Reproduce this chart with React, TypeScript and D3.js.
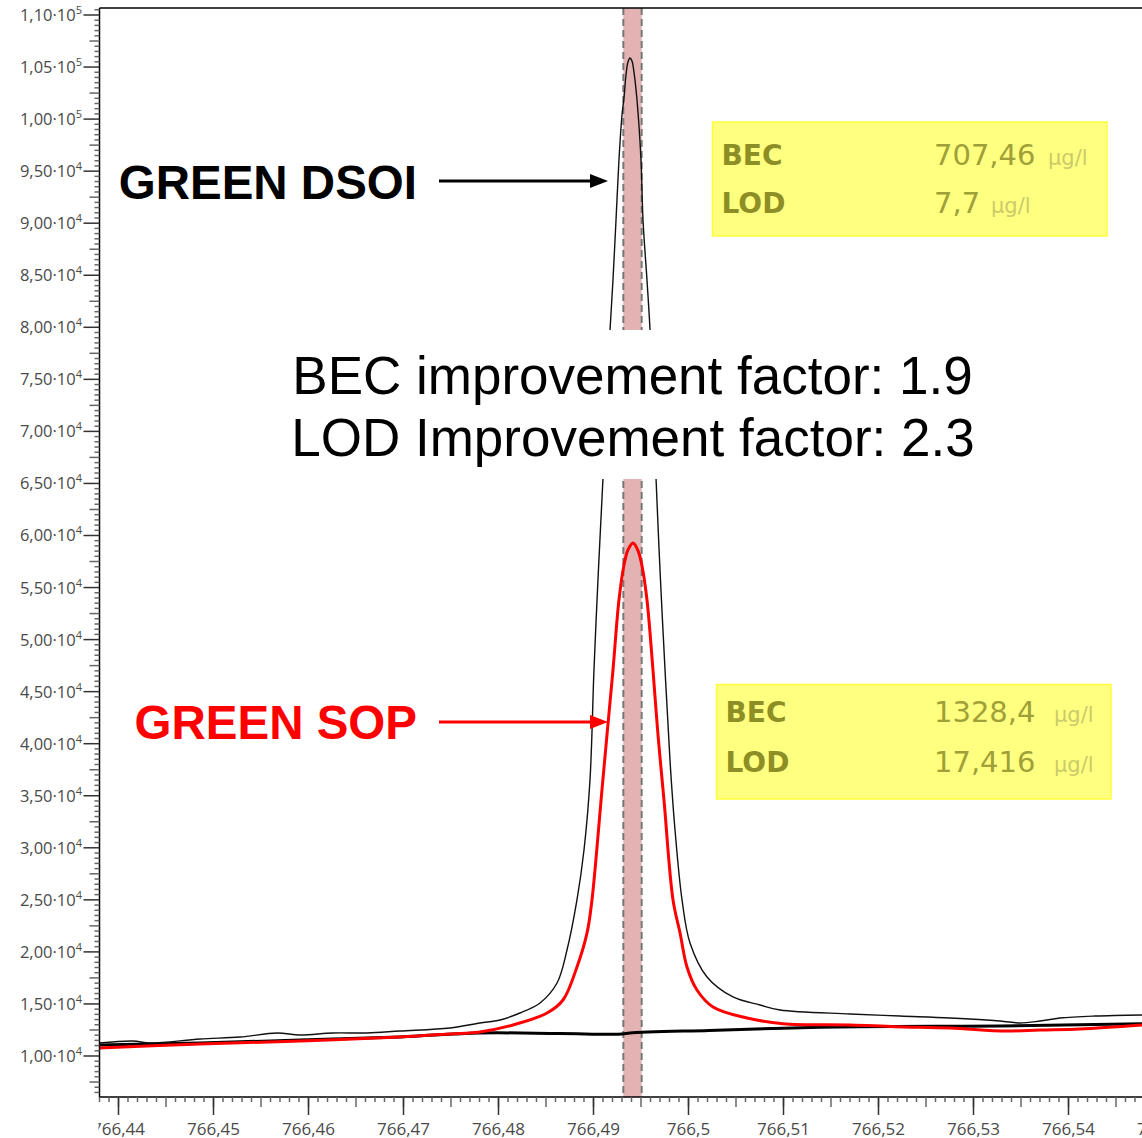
import React from "react";
import * as d3 from "d3";

// mass (x) and intensity (y)
const dsoiMass = [
  766.43795, 766.44153, 766.44332, 766.44858, 766.45279, 766.45668, 766.45911, 766.46258,
  766.46616, 766.46963, 766.47489, 766.47805, 766.48016, 766.48226, 766.48437, 766.48616,
  766.48721, 766.48826, 766.489, 766.48963, 766.49005, 766.49047, 766.491, 766.49174,
  766.49205, 766.49237, 766.49268, 766.493, 766.49321, 766.49342, 766.49363, 766.49384,
  766.49405, 766.49426, 766.49458, 766.495, 766.49521, 766.49563, 766.49595, 766.49658,
  766.497, 766.49753, 766.49805, 766.49858, 766.49932, 766.50016, 766.50195, 766.50468,
  766.50753, 766.50963, 766.517, 766.52226, 766.52753, 766.53279, 766.53489, 766.537,
  766.53911, 766.54279, 766.54774,
];
const dsoiIntensity = [
  11250, 11440, 11250, 11630, 11820, 12210, 12020, 12210,
  12210, 12400, 12690, 13170, 13460, 14130, 15090, 17010,
  20180, 24990, 29790, 36510, 47080, 55730, 65520, 79740,
  84540, 90300, 96070, 100390, 102030, 104240, 105490, 105870,
  105580, 104520, 101830, 96070, 90300, 84540, 79740, 65520,
  56690, 47080, 38430, 31710, 24990, 20860, 17590, 15670,
  14900, 14420, 14040, 13840, 13650, 13360, 13170, 13360,
  13650, 13840, 13940,
];

const sopMass = [
  766.43795, 766.44858, 766.45911, 766.46963, 766.47489, 766.47805, 766.48153, 766.48511,
  766.48679, 766.48826, 766.48932, 766.48984, 766.49089, 766.49142, 766.49205, 766.49268,
  766.49321, 766.49363, 766.49416, 766.49468, 766.49511, 766.49563, 766.49626, 766.49679,
  766.49742, 766.49837, 766.49911, 766.49984, 766.50089, 766.50258, 766.50616, 766.50995,
  766.517, 766.52174, 766.52753, 766.53342, 766.537, 766.54121, 766.54774,
];
const sopIntensity = [
  10770, 11150, 11440, 11830, 12120, 12310, 12980, 14130,
  15380, 18550, 21820, 24990, 35550, 40840, 47080, 53800,
  57170, 58610, 59280, 58550, 57050, 53800, 47080, 40840,
  34590, 24990, 21820, 18550, 16340, 14710, 13650, 13100,
  12980, 12820, 12690, 12400, 12500, 12600, 12980,
];

const blankMass = [
  766.43795, 766.44858, 766.45911, 766.46963, 766.47805, 766.48647, 766.493, 766.49384,
  766.50216, 766.51384, 766.52563, 766.53279, 766.54774,
];
const blankIntensity = [
  11060, 11250, 11540, 11830, 12210, 12160, 12110, 12210,
  12460, 12750, 12860, 12880, 13100,
];

const bandMass = [766.49314, 766.49507];

const yMajorTicks = d3.range(10000, 110001, 5000);
const xMajorTicks = d3.range(0, 12).map((i) => +(766.44 + i * 0.01).toFixed(2));

const W = 1142;
const H = 1138;
const left = 99.5;
const top = 8;
const bottom = 1097;

const x = d3.scaleLinear().domain([766.438, 766.547737]).range([left, W]);
const y = d3.scaleLinear().domain([6061, 110672]).range([bottom, top]);

const line = d3
  .line<[number, number]>()
  .x((d) => x(d[0]))
  .y((d) => y(d[1]))
  .curve(d3.curveCatmullRom.alpha(0.5));

const zip = (a: number[], b: number[]) => a.map((v, i) => [v, b[i]] as [number, number]);

const yLabel = (v: number) => {
  const exp = v >= 100000 ? 5 : 4;
  const mant = (v / Math.pow(10, exp)).toFixed(2).replace(".", ",");
  return { mant, exp };
};
const xLabel = (v: number) => d3.format("")(v).replace(".", ",");

const tickFont = "'Open Sans', sans-serif";
const boxFont = "'DejaVu Sans', sans-serif";
const annFont = "'Liberation Sans', Arial, sans-serif";

function InfoBox({ bx, by, bw, bh, rows }: { bx: number; by: number; bw: number; bh: number; rows: { label: string; value: string; unitX: number; baseline: number }[] }) {
  return (
    <g>
      <rect x={bx} y={by} width={bw} height={bh} fill="#ffff80" stroke="#ffff3c" strokeWidth={1.5} />
      {rows.map((r) => (
        <g key={r.label} fontFamily={boxFont}>
          <text x={bx + 9} y={r.baseline} fontSize={28} fontWeight={600} fill="#8e8e26">
            {r.label}
          </text>
          <text x={934} y={r.baseline} fontSize={29} fill="#a0a038">
            {r.value}
          </text>
          <text x={r.unitX} y={r.baseline} fontSize={21} fill="#cbcb6a">
            µg/l
          </text>
        </g>
      ))}
    </g>
  );
}

export default function App() {
  const yMinor = d3.range(6500, 110672, 500).filter((v) => v % 5000 !== 0);
  const xMinor = d3.range(0, 110).map((i) => 766.438 + i * 0.001).filter((v) => x(v) >= left - 0.5 && x(v) <= W);

  return (
    <svg width={W} height={H} style={{ position: "absolute", left: 0, top: 0, background: "#fff" }}>
      <defs>
        <clipPath id="xlab">
          <rect x={left - 1} y={bottom} width={W} height={H - bottom} />
        </clipPath>
        <clipPath id="plot">
          <rect x={left} y={top} width={W - left} height={bottom - top} />
        </clipPath>
      </defs>

      {/* highlighted integration band */}
      <rect x={x(bandMass[0])} y={top} width={x(bandMass[1]) - x(bandMass[0])} height={bottom - top} fill="#e3b2b2" />
      {bandMass.map((m) => (
        <line key={m} x1={x(m)} x2={x(m)} y1={top} y2={bottom} stroke="#777" strokeWidth={2} strokeDasharray="7,4" />
      ))}

      <g clipPath="url(#plot)" fill="none">
        <path d={line(zip(blankMass, blankIntensity)) || ""} stroke="#000" strokeWidth={3} />
        <path d={line(zip(sopMass, sopIntensity)) || ""} stroke="#ff0000" strokeWidth={3} />
        <path d={line(zip(dsoiMass, dsoiIntensity)) || ""} stroke="#111" strokeWidth={1.4} />
      </g>

      {/* frame */}
      <line x1={left} x2={W} y1={top} y2={top} stroke="#000" strokeWidth={1.5} />
      <line x1={left} x2={left} y1={top} y2={bottom} stroke="#000" strokeWidth={1.5} />
      <line x1={left} x2={W} y1={bottom} y2={bottom} stroke="#000" strokeWidth={1.5} />

      {/* y axis */}
      {yMinor.map((v) => (
        <line key={v} x1={left - (v % 2500 === 0 ? 10 : 5)} x2={left} y1={y(v)} y2={y(v)} stroke="#666" strokeWidth={1.5} />
      ))}
      {yMajorTicks.map((v) => {
        const { mant, exp } = yLabel(v);
        return (
          <g key={v}>
            <line x1={left - 16} x2={left} y1={y(v)} y2={y(v)} stroke="#333" strokeWidth={1.5} />
            <text x={82} y={y(v) + 6} textAnchor="end" fontFamily={tickFont} fontSize={16.5} fill="#4a4a4a">
              {mant}·10
              <tspan fontSize={11} dy={-7}>{exp}</tspan>
            </text>
          </g>
        );
      })}

      {/* x axis */}
      {xMinor.map((v, i) => (
        <line key={i} x1={x(v)} x2={x(v)} y1={bottom} y2={bottom + (Math.round(v * 1000) % 5 === 0 ? 10 : 5)} stroke="#666" strokeWidth={1.5} />
      ))}
      <g clipPath="url(#xlab)">
        {xMajorTicks.map((v) => (
          <g key={v}>
            <line x1={x(v)} x2={x(v)} y1={bottom} y2={bottom + 18} stroke="#333" strokeWidth={1.5} />
            <text x={x(v)} y={1135} textAnchor="middle" fontFamily={tickFont} fontSize={17} fill="#4a4a4a">
              {xLabel(v)}
            </text>
          </g>
        ))}
      </g>

      {/* annotations */}
      <rect x={280} y={330} width={705} height={149} fill="#fff" />
      <g fontFamily={annFont} fontSize={53} textAnchor="middle" fill="#000">
        <text x={632.5} y={394}>BEC improvement factor: 1.9</text>
        <text x={633} y={456}>LOD Improvement factor: 2.3</text>
      </g>

      <g fontFamily={annFont} fontSize={47.5} fontWeight="bold" textAnchor="end">
        <text x={417} y={199}>GREEN DSOI</text>
        <text x={417} y={739} fill="#ff0000">GREEN SOP</text>
      </g>
      <line x1={439} x2={592} y1={181} y2={181} stroke="#000" strokeWidth={3} />
      <path d="M590,174 L608,181 L590,188 Z" fill="#000" />
      <line x1={439} x2={592} y1={722} y2={722} stroke="#ff0000" strokeWidth={3} />
      <path d="M590,715 L608,722 L590,729 Z" fill="#ff0000" />

      <InfoBox
        bx={712.5}
        by={122}
        bw={394.5}
        bh={114}
        rows={[
          { label: "BEC", value: "707,46", unitX: 1048, baseline: 165 },
          { label: "LOD", value: "7,7", unitX: 991, baseline: 213 },
        ]}
      />
      <InfoBox
        bx={716.5}
        by={684.5}
        bw={394.5}
        bh={114.5}
        rows={[
          { label: "BEC", value: "1328,4", unitX: 1054, baseline: 722 },
          { label: "LOD", value: "17,416", unitX: 1054, baseline: 772 },
        ]}
      />
    </svg>
  );
}
